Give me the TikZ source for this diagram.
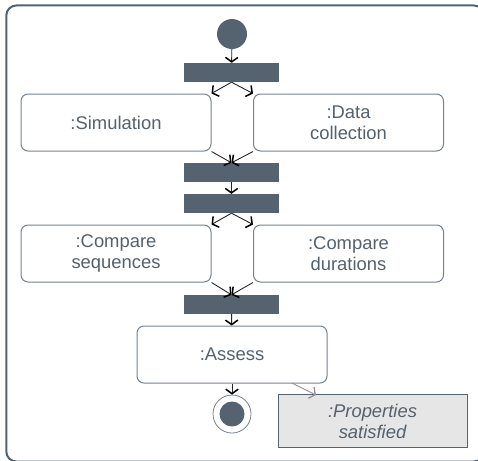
\documentclass[tikz,border=0pt]{standalone}
\usepackage{fontspec}
\setmainfont{Liberation Sans}
\usetikzlibrary{arrows.meta}
\definecolor{slate}{HTML}{556270}
\definecolor{edgec}{HTML}{75828F}
\definecolor{txt}{HTML}{55616D}
\definecolor{objfill}{HTML}{E6E6E6}
\tikzset{
  action/.style={draw=edgec,line width=1pt,rounded corners=7pt,minimum width=190pt,minimum height=57pt,
    inner sep=0pt,align=center,text=txt,font=\fontsize{18.4}{20.6}\selectfont,fill=white},
  forkbar/.style={fill=slate,draw=none,minimum width=95pt,minimum height=19pt,inner sep=0pt},
  startdot/.style={circle,fill=slate,draw=none,minimum size=30pt,inner sep=0pt},
  enddot/.style={circle,fill=slate,draw=none,minimum size=25pt,inner sep=0pt},
  endring/.style={circle,draw=edgec,line width=0.8pt,fill=white,minimum size=38pt,inner sep=0pt},
  objbox/.style={draw=slate,line width=1pt,fill=objfill,minimum width=189pt,minimum height=52.5pt,
    inner sep=0pt,align=center,text=txt,font=\itshape\fontsize{18.4}{20.6}\selectfont},
  flow/.style={draw=black!85,line width=0.9pt,-{Straight Barb[length=4.5pt,width=12.5pt,line width=1.5pt,color=black]}},
  objflow/.style={draw=gray!85,line width=0.9pt,-{Straight Barb[length=4.5pt,width=12.5pt,line width=1.3pt]}},
  frame/.style={draw=slate,line width=2pt,rounded corners=10pt}
}
\begin{document}
\begin{tikzpicture}[x=1pt,y=-1pt]
\clip (0,0) rectangle (478,460);
\node[frame,minimum width=477.7pt,minimum height=456pt,inner sep=0pt] (outer) at (245.15,233.5) {};
\node[startdot] (start) at (232,34) {};
\node[forkbar] (f1) at (231.5,72.5) {};
\node[action] (sim) at (116,122.5) {:Simulation};
\node[action] (data) at (348.5,122.5) {:Data\\collection};
\node[forkbar] (j1) at (231.5,172.5) {};
\node[forkbar] (f2) at (231.5,203.5) {};
\node[action] (seq) at (116,253.5) {:Compare\\sequences};
\node[action] (dur) at (348.5,253.5) {:Compare\\durations};
\node[forkbar] (j2) at (231.5,304.5) {};
\node[action] (assess) at (232,354.5) {:Assess};
\node[endring] (endo) at (232,414) {};
\node[enddot] (endi) at (232,414) {};
\node[objbox] (props) at (372.5,421.2) {:Properties\\satisfied};
\coordinate (oa) at (292,383);
\coordinate (ob) at (316,395);
\draw[flow] (start) -- (f1);
\draw[flow] (f1.south) -- (sim.north east);
\draw[flow] (f1.south) -- (data.north west);
\draw[flow] (sim.south east) -- (j1.north);
\draw[flow] (data.south west) -- (j1.north);
\draw[flow] (j1) -- (f2);
\draw[flow] (f2.south) -- (seq.north east);
\draw[flow] (f2.south) -- (dur.north west);
\draw[flow] (seq.south east) -- (j2.north);
\draw[flow] (dur.south west) -- (j2.north);
\draw[flow] (j2) -- (assess);
\draw[flow] (assess) -- (endo);
\draw[objflow] (oa) -- (ob);
\end{tikzpicture}
\end{document}
